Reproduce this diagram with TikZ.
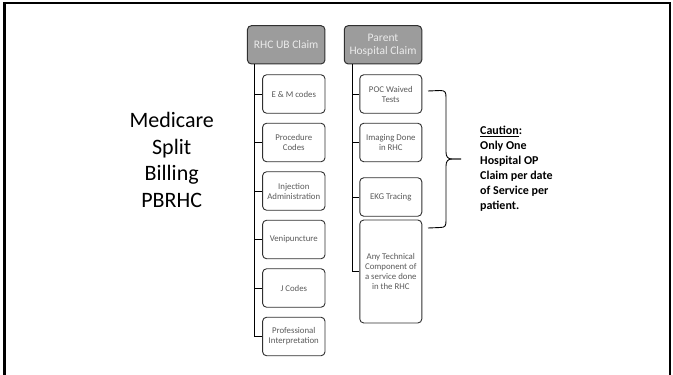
\documentclass[tikz,border=0pt]{standalone}
\usepackage{fontspec}
\setmainfont{Carlito}
\definecolor{hdrfill}{HTML}{9C9C9C}
\definecolor{hdrtext}{HTML}{EBEBEB}
\definecolor{boxline}{HTML}{303030}
\definecolor{boxtext}{HTML}{5A5A5A}
\begin{document}
\begin{tikzpicture}[x=1pt,y=-1pt,
  hdr/.style={draw=boxline, line width=1pt, fill=hdrfill, rounded corners=4pt,
    minimum width=77.5pt, minimum height=38.3pt, align=center, text=hdrtext,
    font=\fontsize{11.5}{13}\selectfont, inner sep=1pt},
  child/.style={draw=boxline, line width=0.9pt, fill=white, rounded corners=4pt,
    minimum width=62.4pt, minimum height=38.5pt, align=center, text=boxtext,
    font=\fontsize{8.8}{10}\selectfont, inner sep=1pt},
  conn/.style={draw=black, line width=0.9pt}]
\useasboundingbox (0,0) rectangle (673,375);
\begin{scope}
\clip (0,0) rectangle (673,375);
\draw[line width=2.5pt] (4.5,385) -- (4.5,3.2) -- (669.8,3.2) -- (669.8,385);
\end{scope}
% title
\node[align=center, font=\fontsize{22}{26.7}\selectfont] (title) at (171.7,160) {Medicare\\Split\\Billing\\PBRHC};
% left column
\node[hdr] (rhc) at (286.2,44.8) {RHC UB Claim};
\node[child] (c1) at (293.8,94) {E \& M codes};
\node[child] (c2) at (293.8,142.5) {Procedure\\Codes};
\node[child] (c3) at (293.8,191) {Injection\\Administration};
\node[child] (c4) at (293.8,239.5) {Venipuncture};
\node[child] (c5) at (293.8,288) {J Codes};
\node[child] (c6) at (293.8,336.5) {Professional\\Interpretation};
\foreach \i in {1,...,6}{\draw[conn] ([xshift=7.8pt]rhc.south west) |- (c\i.west);}
% right column
\node[hdr] (par) at (383,44.8) {Parent\\Hospital Claim};
\node[child, minimum width=62pt] (d1) at (390.8,94) {POC Waived\\Tests};
\node[child, minimum width=62pt] (d2) at (390.8,142.5) {Imaging Done\\in RHC};
\node[child, minimum width=62pt] (d3) at (390.8,197) {EKG Tracing};
\node[child, minimum width=62pt, minimum height=103pt] (d4) at (390.8,271.5) {Any Technical\\Component of\\a service done\\in the RHC};
\foreach \i in {1,...,4}{\draw[conn] ([xshift=8.5pt]par.south west) |- (d\i.west);}
% brace
\coordinate (btop) at (428,91);
\coordinate (bbot) at (428,228);
\coordinate (btip) at (461,159);
\draw[line width=0.9pt, line join=round]
  (btop) -- (440,90.5) .. controls (445,90.5) and (446,92) .. (446,97)
  -- (446,152) .. controls (446,157) and (448,159) .. (452,159) -- (btip);
\draw[line width=0.9pt, line join=round]
  (btip) -- (452,159) .. controls (448,159) and (446,161) .. (446,166)
  -- (446,221) .. controls (446,226) and (445,227.5) .. (440,227.5) -- (bbot);
% caution text
\node[anchor=west, align=left, font=\bfseries\fontsize{12}{15}\selectfont, inner sep=0pt] (caution) at (480,169)
  {\underline{Caution}:\\Only One\\Hospital OP\\Claim per date\\of Service per\\patient.};
\end{tikzpicture}
\end{document}
